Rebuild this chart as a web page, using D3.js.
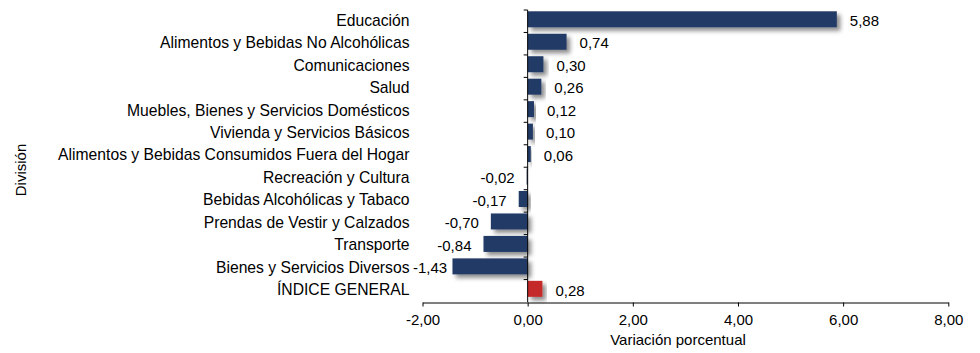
<!DOCTYPE html>
<html>
<head>
<meta charset="utf-8">
<script src="https://cdn.jsdelivr.net/npm/d3@7"></script>
<style>
  body { margin: 0; background: #fff; }
  svg { display: block; font-family: 'Liberation Sans', Arial, sans-serif; }
</style>
</head>
<body>
<svg id="svg" width="980" height="353"></svg>
<script>
const categories = [
	'Educación',
	'Alimentos y Bebidas No Alcohólicas',
	'Comunicaciones',
	'Salud',
	'Muebles, Bienes y Servicios Domésticos',
	'Vivienda y Servicios Básicos',
	'Alimentos y Bebidas Consumidos Fuera del Hogar',
	'Recreación y Cultura',
	'Bebidas Alcohólicas y Tabaco',
	'Prendas de Vestir y Calzados',
	'Transporte',
	'Bienes y Servicios Diversos',
	'ÍNDICE GENERAL'
]
const values = [5.88, 0.74, 0.30, 0.26, 0.12, 0.10, 0.06, -0.02, -0.17, -0.70, -0.84, -1.43, 0.28]
const xTicks = [-2, 0, 2, 4, 6, 8]
const xTitle = 'Variación porcentual'
const yTitle = 'División'

const NAVY = '#243a66'
const RED = '#c42a2a'
const FONT = 15
const CAT_FONT = 15.7

const $svg = d3.select('#svg')

const locale = d3.formatLocale({ decimal: ',', thousands: '.', grouping: [3], currency: ['', ''], minus: '-' })
const fmt = locale.format('.2f')

const xScale = d3.scaleLinear()
	.domain([-2, 8])
	.range([422.5, 948.3])

const yScale = d3.scaleBand()
	.domain(categories)
	.range([10, 302])
	.padding(0)

// soft drop shadow behind the bars
const defs = $svg.append('defs')
defs.append('filter')
	.attr('id', 'shadow')
	.attr('x', '-20%').attr('y', '-50%')
	.attr('width', '150%').attr('height', '250%')
	.append('feDropShadow')
	.attr('dx', 3.5)
	.attr('dy', 3.5)
	.attr('stdDeviation', 2)
	.attr('flood-color', '#000')
	.attr('flood-opacity', 0.45)

const data = categories.map((name, i) => ({ name, value: values[i], last: i === categories.length - 1 }))

// bars
$svg.append('g')
	.selectAll('rect')
	.data(data)
	.join('rect')
	.attr('x', d => xScale(Math.min(0, d.value)))
	.attr('y', d => yScale(d.name) + 1.3)
	.attr('width', d => Math.abs(xScale(d.value) - xScale(0)))
	.attr('height', 16)
	.attr('fill', d => d.last ? RED : NAVY)
	.attr('filter', 'url(#shadow)')

// y axis
const yAxis = $svg.append('g')
	.attr('transform', `translate(${xScale(0)},0)`)
yAxis.append('line')
	.attr('y1', yScale.range()[0]).attr('y2', yScale.range()[1])
	.attr('stroke', '#000')
yAxis.selectAll('.tick')
	.data(categories)
	.join('line')
	.attr('class', 'tick')
	.attr('x1', -4).attr('x2', 0)
	.attr('y1', d => yScale(d)).attr('y2', d => yScale(d))
	.attr('stroke', '#000')

// category labels
$svg.append('g')
	.selectAll('text')
	.data(data)
	.join('text')
	.attr('x', 409.5)
	.attr('y', d => yScale(d.name) + yScale.bandwidth() / 2 - 1)
	.attr('dy', '0.35em')
	.attr('text-anchor', 'end')
	.attr('font-size', CAT_FONT)
	.attr('fill', '#000')
	.text(d => d.name)

// value labels
const plotLeft = 413
$svg.append('g')
	.selectAll('text')
	.data(data)
	.join('text')
	.attr('y', d => yScale(d.name) + yScale.bandwidth() / 2 - 0.5)
	.attr('dy', '0.35em')
	.attr('font-size', FONT)
	.attr('fill', '#000')
	.text(d => fmt(d.value))
	.each(function (d) {
		const t = d3.select(this)
		const w = this.getComputedTextLength()
		if (d.value >= 0) {
			t.attr('x', xScale(d.value) + 13)
		} else {
			const start = Math.max(xScale(d.value) - 12 - w, plotLeft)
			t.attr('x', start)
		}
	})

// x axis
const xAxis = d3.axisBottom(xScale)
	.tickValues(xTicks)
	.tickFormat(fmt)
	.tickSize(4)
	.tickSizeOuter(0)

const gx = $svg.append('g')
	.attr('transform', `translate(0,302.5)`)
	.call(xAxis)
gx.select('.domain').attr('stroke', '#000')
gx.selectAll('.tick line').attr('stroke', '#000')
gx.selectAll('.tick text')
	.attr('font-size', FONT)
	.attr('font-family', 'Liberation Sans, Arial, sans-serif')
	.attr('fill', '#000')
	.attr('y', 12)

// titles
$svg.append('text')
	.attr('x', 678)
	.attr('y', 344.5)
	.attr('text-anchor', 'middle')
	.attr('font-size', FONT)
	.text(xTitle)

$svg.append('text')
	.attr('transform', 'translate(26,170) rotate(-90)')
	.attr('text-anchor', 'middle')
	.attr('font-size', FONT)
	.text(yTitle)
</script>
</body>
</html>
